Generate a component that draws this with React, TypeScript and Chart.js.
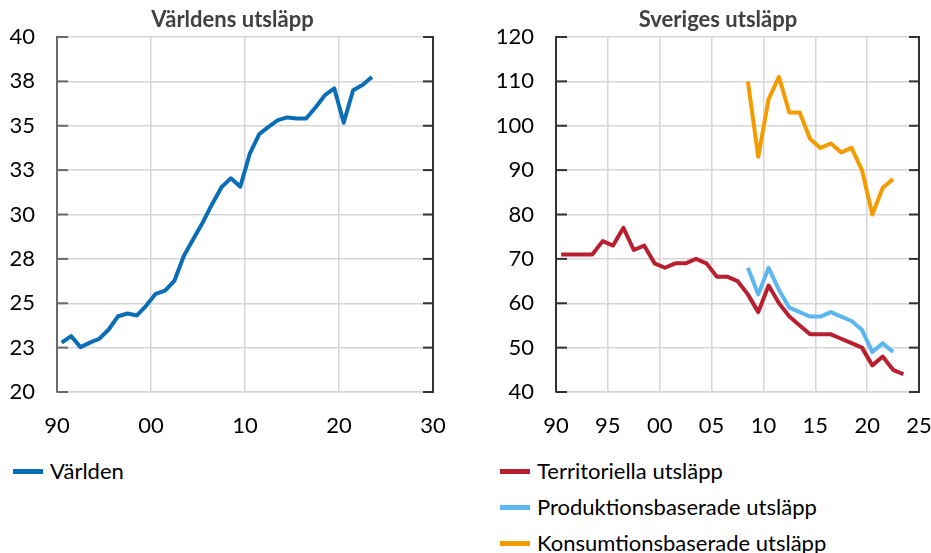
import React, { useEffect, useRef } from 'react';
import { Chart, registerables } from 'chart.js';

Chart.register(...registerables);

// ---------- Data ----------
const worldYears = [
  1990, 1991, 1992, 1993, 1994, 1995, 1996, 1997, 1998, 1999,
  2000, 2001, 2002, 2003, 2004, 2005, 2006, 2007, 2008, 2009,
  2010, 2011, 2012, 2013, 2014, 2015, 2016, 2017, 2018, 2019,
  2020, 2021, 2022, 2023,
];
const worldValues = [
  22.78, 23.15, 22.53, 22.78, 23.0, 23.52, 24.27, 24.42, 24.31, 24.87,
  25.53, 25.71, 26.28, 27.68, 28.62, 29.55, 30.58, 31.54, 32.04, 31.57,
  33.41, 34.52, 34.94, 35.32, 35.47, 35.41, 35.41, 36.03, 36.72, 37.1,
  35.17, 37.0, 37.29, 37.75,
];

const swedenYears = [
  1990, 1991, 1992, 1993, 1994, 1995, 1996, 1997, 1998, 1999,
  2000, 2001, 2002, 2003, 2004, 2005, 2006, 2007, 2008, 2009,
  2010, 2011, 2012, 2013, 2014, 2015, 2016, 2017, 2018, 2019,
  2020, 2021, 2022, 2023,
];
const territorialValues = [
  71, 71, 71, 71, 74, 73, 77, 72, 73, 69,
  68, 69, 69, 70, 69, 66, 66, 65, 62, 58,
  64, 60, 57, 55, 53, 53, 53, 52, 51, 50,
  46, 48, 45, 44,
];

const basedYears = [
  2008, 2009, 2010, 2011, 2012, 2013, 2014, 2015, 2016, 2017,
  2018, 2019, 2020, 2021, 2022,
];
const productionValues = [68, 62, 68, 63, 59, 58, 57, 57, 58, 57, 56, 54, 49, 51, 49];
const consumptionValues = [110, 93, 106, 111, 103, 103, 97, 95, 96, 94, 95, 90, 80, 86, 88];

const worldXTicks = [1990, 2000, 2010, 2020, 2030];
const worldYTicks = [20, 22.5, 25, 27.5, 30, 32.5, 35, 37.5, 40];
const swedenXTicks = [1990, 1995, 2000, 2005, 2010, 2015, 2020, 2025];
const swedenYTicks = [40, 50, 60, 70, 80, 90, 100, 110, 120];

const titleWorld = 'Världens utsläpp';
const titleSweden = 'Sveriges utsläpp';
const labelWorld = 'Världen';
const labelTerritorial = 'Territoriella utsläpp';
const labelProduction = 'Produktionsbaserade utsläpp';
const labelConsumption = 'Konsumtionsbaserade utsläpp';

// ---------- Styles ----------
const FONT = 'Lato, "Open Sans", sans-serif';
const FONT_SIZE = 22;
const BLUE = '#0a6db5';
const RED = '#b81f2f';
const LIGHTBLUE = '#5cb6f0';
const ORANGE = '#f49b00';
const GRID = '#d6d6d6';

const toPoints = (years: number[], values: number[]) =>
  years.map((yr, i) => ({ x: yr + 0.5, y: values[i] }));

const twoDigit = (v: number) => String(Math.round(v) % 100).padStart(2, '0');

function framePlugin(leftColor: string, rightColor: string) {
  return {
    id: 'frameTicks',
    beforeDatasetsDraw(chart: any) {
      const { ctx, chartArea } = chart;
      const { left, right, top, bottom } = chartArea;
      const y = chart.scales.y;
      ctx.save();
      ctx.lineWidth = 2;
      ctx.strokeStyle = rightColor;
      ctx.beginPath();
      ctx.moveTo(right, top - 1);
      ctx.lineTo(right, bottom + 1);
      ctx.stroke();
      y.ticks.forEach((t: any) => {
        const py = y.getPixelForValue(t.value);
        ctx.strokeStyle = leftColor;
        ctx.beginPath();
        ctx.moveTo(left, py);
        ctx.lineTo(left + 11, py);
        ctx.stroke();
        ctx.strokeStyle = rightColor;
        ctx.beginPath();
        ctx.moveTo(right - 10, py);
        ctx.lineTo(right, py);
        ctx.stroke();
      });
      ctx.restore();
    },
  };
}

function makeOptions(opts: {
  title: string;
  xMin: number; xMax: number; xTicks: number[];
  yMin: number; yMax: number; yTicks: number[];
  yWidth: number; rightWidth: number;
  axisColor: string;
  yFormat: (v: number) => string;
}) {
  return {
    responsive: false,
    animation: false as const,
    layout: { padding: 0 },
    plugins: {
      legend: { display: false },
      tooltip: { enabled: false },
      title: {
        display: true,
        text: opts.title,
        color: '#404040',
        font: { family: FONT, size: FONT_SIZE, weight: 'bold' as const, lineHeight: 1.2 },
        padding: { top: 7, bottom: 3.6 },
      },
    },
    elements: {
      point: { radius: 0 },
      line: { borderWidth: 4, tension: 0, borderJoinStyle: 'round' as const, borderCapStyle: 'butt' as const },
    },
    scales: {
      x: {
        type: 'linear' as const,
        min: opts.xMin,
        max: opts.xMax,
        afterBuildTicks: (scale: any) => {
          scale.ticks = opts.xTicks.map((v) => ({ value: v }));
        },
        afterFit: (scale: any) => {
          scale.height = 53;
          scale.paddingLeft = 0;
          scale.paddingRight = 0;
        },
        grid: { color: GRID, lineWidth: 1.5, drawTicks: false },
        border: { color: GRID, width: 1.5 },
        ticks: {
          padding: 21,
          color: '#000',
          font: { family: FONT, size: FONT_SIZE },
          maxRotation: 0,
          autoSkip: false,
          callback: (v: any) => twoDigit(Number(v)),
        },
      },
      y: {
        type: 'linear' as const,
        position: 'left' as const,
        min: opts.yMin,
        max: opts.yMax,
        afterBuildTicks: (scale: any) => {
          scale.ticks = opts.yTicks.map((v) => ({ value: v }));
        },
        afterFit: (scale: any) => {
          scale.width = opts.yWidth;
          scale.paddingTop = 0;
          scale.paddingBottom = 0;
        },
        grid: { color: GRID, lineWidth: 1.5, drawTicks: false },
        border: { color: opts.axisColor, width: 2 },
        ticks: {
          padding: 22,
          color: '#000',
          font: { family: FONT, size: FONT_SIZE },
          autoSkip: false,
          callback: (v: any) => opts.yFormat(Number(v)),
        },
      },
      yRight: {
        type: 'linear' as const,
        position: 'right' as const,
        min: opts.yMin,
        max: opts.yMax,
        afterFit: (scale: any) => {
          scale.width = opts.rightWidth;
          scale.paddingTop = 0;
          scale.paddingBottom = 0;
        },
        grid: { display: false, drawTicks: false },
        border: { display: false },
        ticks: { display: false },
      },
    },
  };
}

function WorldChart() {
  const ref = useRef<HTMLCanvasElement | null>(null);
  useEffect(() => {
    if (!ref.current) return;
    const chart = new Chart(ref.current, {
      type: 'line',
      data: {
        datasets: [
          { label: labelWorld, data: toPoints(worldYears, worldValues), borderColor: BLUE, backgroundColor: BLUE },
        ],
      },
      options: makeOptions({
        title: titleWorld,
        xMin: 1990, xMax: 2030, xTicks: worldXTicks,
        yMin: 20, yMax: 40, yTicks: worldYTicks,
        yWidth: 57, rightWidth: 32,
        axisColor: '#6a6a6a',
        yFormat: (v) => String(Math.round(v)),
      }) as any,
      plugins: [framePlugin('#6a6a6a', '#333333')],
    });
    return () => chart.destroy();
  }, []);
  return <canvas ref={ref} width={465} height={445} style={{ position: 'absolute', left: 0, top: 0 }} />;
}

function SwedenChart() {
  const ref = useRef<HTMLCanvasElement | null>(null);
  useEffect(() => {
    if (!ref.current) return;
    const chart = new Chart(ref.current, {
      type: 'line',
      data: {
        datasets: [
          { label: labelTerritorial, data: toPoints(swedenYears, territorialValues), borderColor: RED, backgroundColor: RED },
          { label: labelProduction, data: toPoints(basedYears, productionValues), borderColor: LIGHTBLUE, backgroundColor: LIGHTBLUE },
          { label: labelConsumption, data: toPoints(basedYears, consumptionValues), borderColor: ORANGE, backgroundColor: ORANGE },
        ],
      },
      options: makeOptions({
        title: titleSweden,
        xMin: 1990, xMax: 2025, xTicks: swedenXTicks,
        yMin: 40, yMax: 120, yTicks: swedenYTicks,
        yWidth: 59, rightWidth: 20,
        axisColor: '#333333',
        yFormat: (v) => String(Math.round(v)),
      }) as any,
      plugins: [framePlugin('#333333', '#333333')],
    });
    return () => chart.destroy();
  }, []);
  return <canvas ref={ref} width={442} height={445} style={{ position: 'absolute', left: 497, top: 0 }} />;
}

function LegendItem({ color, text, left, top }: { color: string; text: string; left: number; top: number }) {
  return (
    <div style={{ position: 'absolute', left, top, height: 26, display: 'flex', alignItems: 'center', whiteSpace: 'nowrap' }}>
      <span style={{ display: 'inline-block', width: 30, height: 5, background: color, marginRight: 7 }} />
      <span style={{ fontFamily: FONT, fontSize: FONT_SIZE, lineHeight: '26px', color: '#000' }}>{text}</span>
    </div>
  );
}

export default function App() {
  return (
    <div style={{ position: 'absolute', left: 0, top: 0, width: 931, height: 553, overflow: 'hidden', background: '#fff' }}>
      <WorldChart />
      <SwedenChart />
      <LegendItem color={BLUE} text={labelWorld} left={13} top={458} />
      <LegendItem color={RED} text={labelTerritorial} left={500} top={458} />
      <LegendItem color={LIGHTBLUE} text={labelProduction} left={500} top={494} />
      <LegendItem color={ORANGE} text={labelConsumption} left={500} top={530} />
    </div>
  );
}
